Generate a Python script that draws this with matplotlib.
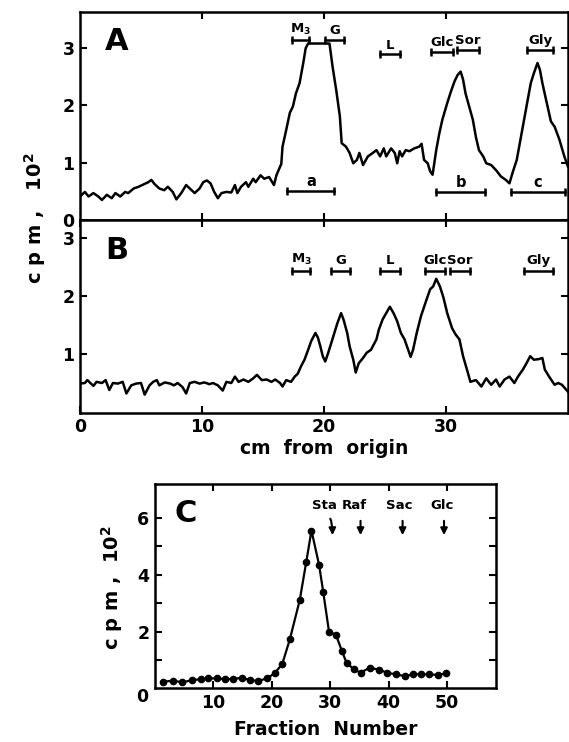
import numpy as np
import matplotlib.pyplot as plt

plt.rcParams['font.family'] = ['DejaVu Sans']
plt.rcParams['font.weight'] = 'bold'
plt.rcParams['axes.labelweight'] = 'bold'
plt.rcParams['mathtext.fontset'] = 'dejavusans'

# Panel A: Radioaktivitaet entlang des Papierchromatogramms
a_cm = [0.0, 0.4, 0.7, 1.1, 1.5, 1.8, 2.2, 2.6, 2.9, 3.3, 3.7, 3.95, 4.4, 4.8, 5.2, 5.6,
        5.85, 6.1, 6.5, 6.9, 7.2, 7.6, 7.9, 8.3, 8.7, 9.0, 9.4, 9.8, 10.1, 10.4, 10.7,
        11.0, 11.3, 11.6, 12.0, 12.4, 12.7, 12.9, 13.2, 13.6, 13.8, 14.2, 14.4, 14.8,
        15.1, 15.5, 15.9, 16.1, 16.5, 16.6, 16.9, 17.2, 17.45, 17.7, 18.0, 18.3, 18.5,
        18.7, 20.45, 20.7, 21.0, 21.3, 21.45, 21.8, 22.1, 22.4, 22.7, 22.9, 23.2, 23.6,
        24.0, 24.3, 24.6, 24.9, 25.1, 25.5, 25.8, 26.0, 26.2, 26.4, 26.7, 27.0, 27.4,
        27.8, 28.0, 28.2, 28.5, 28.7, 28.9, 29.2, 29.45, 29.7, 30.1, 30.4, 30.7, 30.95,
        31.2, 31.4, 31.6, 31.9, 32.2, 32.45, 32.7, 33.05, 33.3, 33.7, 34.1, 34.5, 34.9,
        35.2, 35.45, 35.8, 36.1, 36.4, 36.7, 36.95, 37.2, 37.5, 37.7, 37.9, 38.2, 38.6,
        38.9, 39.3, 39.7, 40.0]
a_cpm = [0.41, 0.49, 0.41, 0.47, 0.41, 0.35, 0.44, 0.38, 0.47, 0.41, 0.49, 0.47, 0.55,
         0.58, 0.62, 0.66, 0.70, 0.63, 0.55, 0.52, 0.58, 0.49, 0.36, 0.47, 0.61, 0.55,
         0.47, 0.55, 0.66, 0.69, 0.64, 0.49, 0.38, 0.47, 0.49, 0.48, 0.61, 0.47, 0.58,
         0.66, 0.58, 0.72, 0.66, 0.78, 0.72, 0.75, 0.61, 0.78, 0.98, 1.28, 1.57, 1.87,
         1.98, 2.21, 2.39, 2.74, 3.0, 3.08, 3.08, 2.68, 2.27, 1.81, 1.34, 1.28, 1.17,
         0.99, 1.05, 1.17, 0.96, 1.11, 1.17, 1.22, 1.11, 1.25, 1.11, 1.25, 1.17, 0.99,
         1.20, 1.11, 1.22, 1.20, 1.25, 1.28, 1.33, 1.05, 0.99, 0.85, 0.79, 1.22, 1.51,
         1.75, 2.04, 2.24, 2.42, 2.53, 2.59, 2.45, 2.21, 1.98, 1.75, 1.45, 1.22, 1.11,
         0.99, 0.96, 0.87, 0.76, 0.70, 0.64, 0.82, 1.05, 1.40, 1.75, 2.10, 2.39, 2.56,
         2.74, 2.62, 2.39, 2.10, 1.72, 1.63, 1.40, 1.11, 0.93]

# Panel B
b_cm = [0.0, 0.4, 0.6, 1.1, 1.35, 1.8, 2.1, 2.4, 2.7, 3.1, 3.5, 3.8, 4.2, 4.6, 5.0, 5.3,
        5.7, 6.0, 6.3, 6.5, 6.95, 7.4, 7.7, 8.0, 8.4, 8.7, 9.0, 9.4, 9.8, 10.2, 10.6,
        10.9, 11.3, 11.7, 12.0, 12.4, 12.7, 13.0, 13.4, 13.8, 14.2, 14.5, 14.9, 15.3,
        15.7, 16.0, 16.4, 16.6, 16.9, 17.3, 17.6, 17.85, 18.1, 18.4, 18.7, 18.95, 19.3,
        19.5, 19.7, 19.9, 20.1, 20.3, 20.6, 20.85, 21.1, 21.4, 21.6, 21.9, 22.1, 22.4,
        22.6, 22.85, 23.2, 23.5, 23.85, 24.3, 24.5, 24.8, 25.1, 25.4, 25.7, 26.0, 26.3,
        26.6, 26.9, 27.1, 27.3, 27.6, 27.95, 28.4, 28.7, 28.95, 29.2, 29.5, 29.8, 30.1,
        30.5, 30.8, 31.1, 31.4, 31.8, 32.0, 32.45, 32.9, 33.3, 33.7, 34.1, 34.4, 34.8,
        35.2, 35.6, 35.9, 36.3, 36.6, 36.9, 37.2, 37.6, 37.9, 38.1, 38.45, 38.9, 39.2,
        39.5, 40.0]
b_cpm = [0.50, 0.51, 0.56, 0.46, 0.53, 0.51, 0.56, 0.39, 0.51, 0.50, 0.53, 0.33, 0.47,
         0.50, 0.51, 0.31, 0.47, 0.53, 0.56, 0.47, 0.52, 0.50, 0.47, 0.51, 0.44, 0.33,
         0.51, 0.53, 0.50, 0.52, 0.49, 0.51, 0.47, 0.38, 0.53, 0.51, 0.62, 0.53, 0.57,
         0.53, 0.59, 0.65, 0.56, 0.57, 0.53, 0.57, 0.51, 0.45, 0.56, 0.53, 0.62, 0.67,
         0.79, 0.91, 1.08, 1.23, 1.37, 1.29, 1.14, 0.97, 0.88, 1.00, 1.20, 1.37, 1.54,
         1.71, 1.60, 1.37, 1.14, 0.91, 0.69, 0.85, 0.94, 1.03, 1.08, 1.26, 1.43, 1.60,
         1.71, 1.82, 1.71, 1.57, 1.37, 1.26, 1.08, 0.96, 1.08, 1.37, 1.66, 1.94, 2.12,
         2.17, 2.30, 2.17, 1.97, 1.71, 1.45, 1.34, 1.26, 0.97, 0.68, 0.53, 0.56, 0.45,
         0.59, 0.48, 0.57, 0.45, 0.57, 0.62, 0.51, 0.62, 0.74, 0.85, 0.97, 0.91, 0.92,
         0.94, 0.74, 0.62, 0.48, 0.51, 0.48, 0.36]

# Panel C: Saeulenfraktionen
c_frac = [1.4, 3.1, 4.7, 6.4, 7.9, 9.1, 10.6, 12.0, 13.4, 14.85, 16.3, 17.7, 19.2, 20.5,
          21.8, 23.1, 24.8, 25.9, 26.8, 28.1, 28.8, 29.8, 31.0, 32.0, 32.8, 34.0, 35.2,
          36.8, 38.4, 39.8, 41.2, 42.8, 44.1, 45.5, 46.9, 48.4, 49.9]
c_cpm = [0.23, 0.27, 0.21, 0.29, 0.32, 0.35, 0.35, 0.32, 0.33, 0.37, 0.29, 0.26, 0.35,
         0.53, 0.86, 1.73, 3.12, 4.45, 5.56, 4.35, 3.41, 2.0, 1.88, 1.32, 0.9, 0.68,
         0.55, 0.73, 0.65, 0.55, 0.49, 0.43, 0.49, 0.5, 0.49, 0.47, 0.53]

# Marker-Balken (Standards) in A und B
a_std = ["M$_3$", "G", "L", "Glc", "Sor", "Gly"]
a_std_x0 = [17.35, 20.1, 24.6, 28.8, 30.9, 36.6]
a_std_x1 = [18.8, 21.6, 26.2, 30.6, 32.7, 38.8]
a_std_y = [3.15, 3.15, 2.89, 2.94, 2.97, 2.97]
a_pool = ["a", "b", "c"]
a_pool_x0 = [17.0, 29.2, 35.3]
a_pool_x1 = [20.85, 33.2, 39.75]
a_pool_y = [0.5, 0.49, 0.49]

b_std = ["M$_3$", "G", "L", "Glc", "Sor", "Gly"]
b_std_x0 = [17.4, 20.6, 24.6, 28.3, 30.3, 36.4]
b_std_x1 = [18.85, 22.1, 26.2, 29.9, 32.0, 38.8]
b_std_y = [2.43, 2.43, 2.43, 2.43, 2.43, 2.43]

c_std = ["Sta", "Raf", "Sac", "Glc"]
c_label_x = [29.1, 34.2, 41.8, 49.1]
c_arrow_x = [30.4, 35.2, 42.4, 49.5]

W, H = 569, 742
fig = plt.figure(figsize=(W / 100, H / 100), dpi=100)


def box(l, t, r, b):
    return [l / W, 1 - b / H, (r - l) / W, (b - t) / H]


def style(ax):
    ax.tick_params(direction="in", length=5, width=1.5, labelsize=12.5,
                   top=True, right=True, pad=4)
    for s in ax.spines.values():
        s.set_linewidth(1.8)


def brackets(ax, names, x0, x1, y, dy, fs):
    for n, a, b, yy in zip(names, x0, x1, y):
        ax.plot([a, b], [yy, yy], "k-", lw=1.8, marker="|", ms=6, mew=1.8)
        ax.text((a + b) / 2, yy + dy, n, ha="center", va="bottom", fontsize=fs)


ax_a = fig.add_axes(box(80, 12, 568, 220))
ax_b = fig.add_axes(box(80, 220, 568, 412.7))
ax_c = fig.add_axes(box(155, 484, 496, 688.3))

# A
ax_a.plot(a_cm, a_cpm, "k-", lw=1.8)
ax_a.set_xlim(0, 40)
ax_a.set_ylim(0, 3.63)
ax_a.set_xticks([10, 20, 30])
ax_a.set_xticklabels([])
ax_a.set_yticks([0, 1, 2, 3])
style(ax_a)
brackets(ax_a, a_std, a_std_x0, a_std_x1, a_std_y, 0.05, 9.5)
brackets(ax_a, a_pool, a_pool_x0, a_pool_x1, a_pool_y, 0.04, 10.5)
ax_a.text(0.051, 0.856, "A", transform=ax_a.transAxes, fontsize=22,
          fontweight="heavy", ha="left", va="center")

# B
ax_b.plot(b_cm, b_cpm, "k-", lw=1.8)
ax_b.set_xlim(0, 40)
ax_b.set_ylim(0, 3.31)
ax_b.set_xticks([0, 10, 20, 30])
ax_b.set_yticks([1, 2, 3])
style(ax_b)
brackets(ax_b, b_std, b_std_x0, b_std_x1, b_std_y, 0.07, 9.5)
ax_b.text(0.051, 0.844, "B", transform=ax_b.transAxes, fontsize=22,
          fontweight="heavy", ha="left", va="center")
ax_b.set_xlabel("cm  from  origin", fontsize=13.5, labelpad=2)

fig.text(35 / W, 1 - 218 / H, "c p m ,   10$^{2}$", rotation=90, fontsize=14,
         ha="center", va="center")

# C
ax_c.plot(c_frac, c_cpm, "k-", lw=1.6, marker="o", ms=4.5)
ax_c.set_xlim(0, 58.4)
ax_c.set_ylim(0, 7.2)
ax_c.set_xticks([10, 20, 30, 40, 50])
ax_c.set_yticks([1, 2, 3, 4, 5, 6])
ax_c.set_yticklabels(["", "2", "", "4", "", "6"])
style(ax_c)
ax_c.text(-0.02, 0, "0", transform=ax_c.transAxes, fontsize=12.5,
          ha="right", va="top")
for n, lx, tx in zip(c_std, c_label_x, c_arrow_x):
    ax_c.text(lx, 6.2, n, ha="center", va="bottom", fontsize=9.5)
    if n == "Sta":
        ax_c.annotate("", xy=(tx, 5.3), xytext=(tx - 0.7, 6.05),
                      arrowprops=dict(arrowstyle="-|>", color="k", lw=1.5,
                                      mutation_scale=10,
                                      connectionstyle="angle3,angleA=-20,angleB=90"))
    else:
        ax_c.annotate("", xy=(tx, 5.3), xytext=(tx, 6.0),
                      arrowprops=dict(arrowstyle="-|>", color="k", lw=1.5,
                                      mutation_scale=10))
ax_c.text(0.056, 0.858, "C", transform=ax_c.transAxes, fontsize=22,
          fontweight="heavy", ha="left", va="center")
ax_c.set_xlabel("Fraction  Number", fontsize=13.5, labelpad=6)
fig.text(112 / W, 1 - 588 / H, "c p m ,  10$^{2}$", rotation=90, fontsize=14,
         ha="center", va="center")

fig.savefig("out.png", dpi=100)
